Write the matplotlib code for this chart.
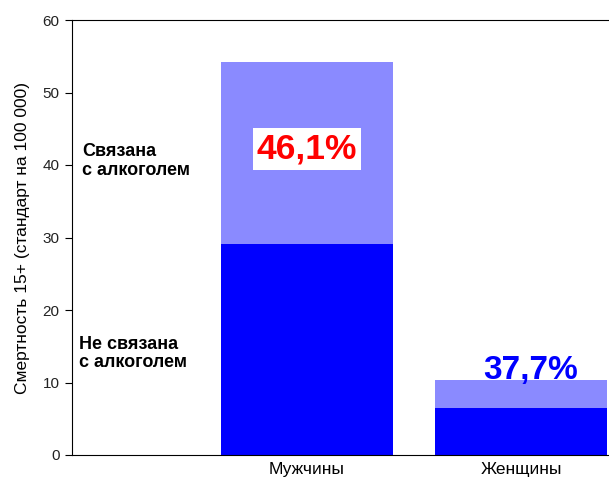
import numpy as np
import matplotlib.pyplot as plt

plt.rcParams['font.family'] = ['Liberation Sans', 'DejaVu Sans']

categories = ['Мужчины', 'Женщины']
not_alcohol = [29.1, 6.45]
alcohol = [25.1, 3.9]
shares = ['46,1%', '37,7%']

dark_blue = '#0000FF'
light_blue = '#8A8AFF'

fig = plt.figure(figsize=(6.09, 4.80), dpi=100)
ax = fig.add_axes([71.5 / 609, 25 / 480, 1 - 71.5 / 609 + 0.01, 435 / 480])

x = np.array([1, 2])
ax.bar(x, not_alcohol, width=0.804, color=dark_blue)
ax.bar(x, alcohol, width=0.804, bottom=not_alcohol, color=light_blue)

totals = np.array(not_alcohol) + np.array(alcohol)

# подписи долей
ax.text(x[0], totals[0] - 12.0, shares[0], ha='center', va='center',
        fontsize=25.5, fontweight='bold', color='red',
        bbox=dict(facecolor='white', edgecolor='none', pad=3))
ax.text(x[1] + 0.045, totals[1] + 1.35, shares[1], ha='center', va='center',
        fontsize=24, fontweight='bold', color=dark_blue)

ax.text(-0.05, 40.5, 'Связана\nс алкоголем', ha='left', va='center',
        fontsize=13, fontweight='bold', linespacing=1.15)
ax.text(-0.065, 14.0, 'Не связана\nс алкоголем', ha='left', va='center',
        fontsize=13, fontweight='bold', linespacing=1.15)

ax.set_xlim(-0.1005, 2.4396)
ax.set_ylim(0, 60)
ax.set_yticks(np.arange(0, 61, 10))
ax.set_xticks(x)
ax.set_xticklabels(categories, fontsize=12.5)
ax.tick_params(axis='x', length=0, pad=5)
ax.tick_params(axis='y', labelsize=11, length=5, direction='out', labelcolor='#222222')
ax.set_ylabel('Смертность 15+ (стандарт на 100 000)', fontsize=12.5, labelpad=9)
ax.spines['right'].set_visible(False)

fig.savefig('out.png', dpi=100)
